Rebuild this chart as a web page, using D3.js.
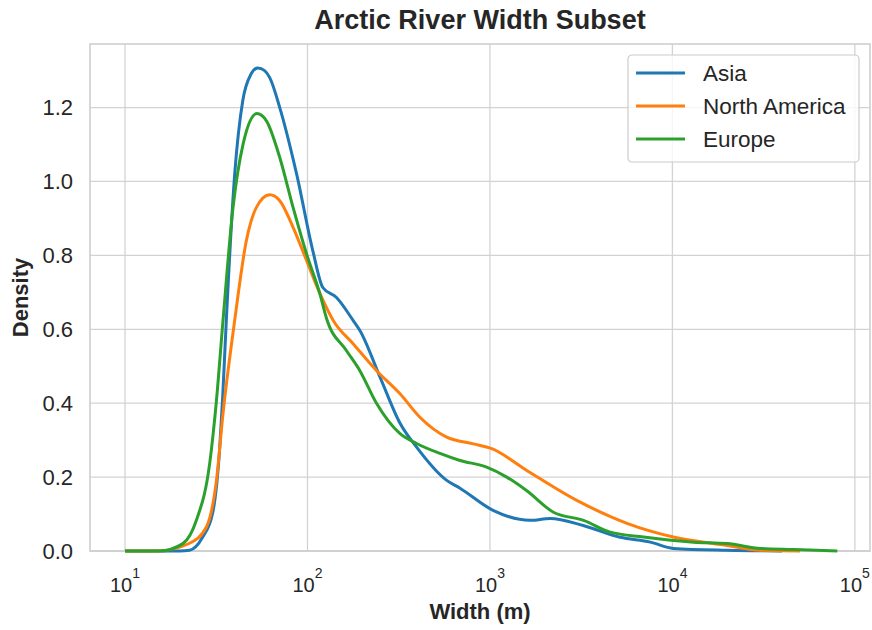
<!DOCTYPE html>
<html>
<head>
<meta charset="utf-8">
<script src="https://cdn.jsdelivr.net/npm/d3@7"></script>
<style>
  body { margin: 0; background: #fff; }
  text { font-family: "Liberation Sans", Arial, sans-serif; fill: #262626; }
</style>
</head>
<body>
<div id="chart"></div>
<script>
// data: log10(width in m) and KDE density
const regions = ["Asia", "North America", "Europe"];
const colors = ["#1f77b4", "#ff7f0e", "#2ca02c"];

const asiaLogW = [1.0, 1.30, 1.354, 1.425, 1.480, 1.519, 1.535, 1.555, 1.601, 1.645, 1.690, 1.727, 1.765, 1.793, 1.848, 1.940, 2.029, 2.084, 2.159, 2.250, 2.288, 2.398, 2.508, 2.598, 2.763, 2.836, 3.017, 3.220, 3.330, 3.511, 3.714, 3.879, 4.005, 4.30, 4.60];
const asiaDens = [0, 0, 0.002, 0.037, 0.102, 0.280, 0.415, 0.623, 1.020, 1.218, 1.290, 1.307, 1.300, 1.281, 1.200, 1.021, 0.813, 0.713, 0.686, 0.624, 0.596, 0.470, 0.345, 0.281, 0.191, 0.170, 0.110, 0.083, 0.088, 0.069, 0.037, 0.024, 0.007, 0.002, 0];

const naLogW = [1.0, 1.173, 1.354, 1.446, 1.501, 1.537, 1.601, 1.665, 1.720, 1.793, 1.848, 1.921, 1.995, 2.068, 2.141, 2.250, 2.379, 2.506, 2.616, 2.763, 2.909, 3.010, 3.202, 3.476, 3.751, 4.005, 4.30, 4.48, 4.70];
const naDens = [0, 0, 0.021, 0.065, 0.191, 0.372, 0.624, 0.840, 0.930, 0.964, 0.948, 0.876, 0.786, 0.697, 0.624, 0.561, 0.488, 0.426, 0.362, 0.308, 0.290, 0.277, 0.218, 0.137, 0.075, 0.038, 0.015, 0.002, 0];

const euLogW = [1.0, 1.189, 1.317, 1.391, 1.464, 1.501, 1.537, 1.592, 1.647, 1.723, 1.775, 1.848, 1.921, 1.995, 2.068, 2.104, 2.214, 2.287, 2.379, 2.506, 2.598, 2.726, 2.836, 2.982, 3.092, 3.202, 3.348, 3.513, 3.659, 3.842, 4.116, 4.30, 4.483, 4.664, 4.904];
const euDens = [0, 0, 0.020, 0.083, 0.237, 0.407, 0.624, 0.930, 1.101, 1.184, 1.164, 1.065, 0.930, 0.804, 0.696, 0.630, 0.542, 0.488, 0.399, 0.318, 0.291, 0.264, 0.245, 0.227, 0.200, 0.163, 0.105, 0.083, 0.051, 0.038, 0.024, 0.020, 0.007, 0.004, 0];

const xTicks = [1e1, 1e2, 1e3, 1e4, 1e5];
const yTicks = [0, 0.2, 0.4, 0.6, 0.8, 1.0, 1.2];

const series = [
  { name: regions[0], logw: asiaLogW, dens: asiaDens },
  { name: regions[1], logw: naLogW, dens: naDens },
  { name: regions[2], logw: euLogW, dens: euDens }
];

const width = 872, height = 630;
const margin = { top: 44, right: 2, bottom: 79, left: 90 };
const innerW = width - margin.left - margin.right;
const innerH = height - margin.top - margin.bottom;

const svg = d3.select("#chart").append("svg")
  .attr("width", width)
  .attr("height", height);

const x = d3.scaleLog()
  .domain([Math.pow(10, 0.808), Math.pow(10, 5.083)])
  .range([0, innerW]);

const y = d3.scaleLinear()
  .domain([0, 1.372])
  .range([innerH, 0]);

const g = svg.append("g")
  .attr("transform", `translate(${margin.left},${margin.top})`);

// grid
g.append("g").selectAll("line")
  .data(xTicks)
  .join("line")
  .attr("x1", d => x(d)).attr("x2", d => x(d))
  .attr("y1", 0).attr("y2", innerH)
  .attr("stroke", "#d3d3d3").attr("stroke-width", 1.3);

g.append("g").selectAll("line")
  .data(yTicks)
  .join("line")
  .attr("x1", 0).attr("x2", innerW)
  .attr("y1", d => y(d)).attr("y2", d => y(d))
  .attr("stroke", "#d3d3d3").attr("stroke-width", 1.3);

// frame
g.append("rect")
  .attr("width", innerW).attr("height", innerH)
  .attr("fill", "none")
  .attr("stroke", "#cccccc").attr("stroke-width", 1.5);

// y tick labels
g.append("g").selectAll("text")
  .data(yTicks)
  .join("text")
  .attr("x", -17)
  .attr("y", d => y(d))
  .attr("dy", "0.36em")
  .attr("text-anchor", "end")
  .attr("font-size", 22)
  .text(d => d.toFixed(1));

// x tick labels with superscripts
const xt = g.append("g").selectAll("text")
  .data(xTicks)
  .join("text")
  .attr("x", d => x(d))
  .attr("y", innerH + 41)
  .attr("text-anchor", "middle")
  .attr("font-size", 20);
xt.append("tspan").text("10");
xt.append("tspan")
  .attr("font-size", 14)
  .attr("dy", -14)
  .text(d => Math.round(Math.log10(d)));

// lines
const line = d3.line()
  .x(d => x(Math.pow(10, d[0])))
  .y(d => y(d[1]))
  .curve(d3.curveMonotoneX);

series.forEach((s, i) => {
  const pts = s.logw.map((v, j) => [v, s.dens[j]]);
  g.append("path")
    .datum(pts)
    .attr("fill", "none")
    .attr("stroke", colors[i])
    .attr("stroke-width", 3)
    .attr("stroke-linejoin", "round")
    .attr("d", line);
});

// title and axis labels
svg.append("text")
  .attr("x", margin.left + innerW / 2)
  .attr("y", 29)
  .attr("text-anchor", "middle")
  .attr("font-size", 27)
  .attr("font-weight", "bold")
  .text("Arctic River Width Subset");

svg.append("text")
  .attr("x", margin.left + innerW / 2)
  .attr("y", 619)
  .attr("text-anchor", "middle")
  .attr("font-size", 22)
  .attr("font-weight", "bold")
  .text("Width (m)");

svg.append("text")
  .attr("transform", `translate(28,${margin.top + innerH / 2}) rotate(-90)`)
  .attr("text-anchor", "middle")
  .attr("font-size", 22)
  .attr("font-weight", "bold")
  .text("Density");

// legend
const legend = svg.append("g").attr("transform", "translate(628,55)");
legend.append("rect")
  .attr("width", 231).attr("height", 107)
  .attr("rx", 4)
  .attr("fill", "#fff").attr("fill-opacity", 0.8)
  .attr("stroke", "#cccccc").attr("stroke-width", 1.2);

regions.forEach((r, i) => {
  const yy = 18 + i * 33;
  legend.append("line")
    .attr("x1", 8).attr("x2", 57)
    .attr("y1", yy).attr("y2", yy)
    .attr("stroke", colors[i]).attr("stroke-width", 3);
  legend.append("text")
    .attr("x", 75).attr("y", yy)
    .attr("dy", "0.36em")
    .attr("font-size", 22.5)
    .text(r);
});
</script>
</body>
</html>
